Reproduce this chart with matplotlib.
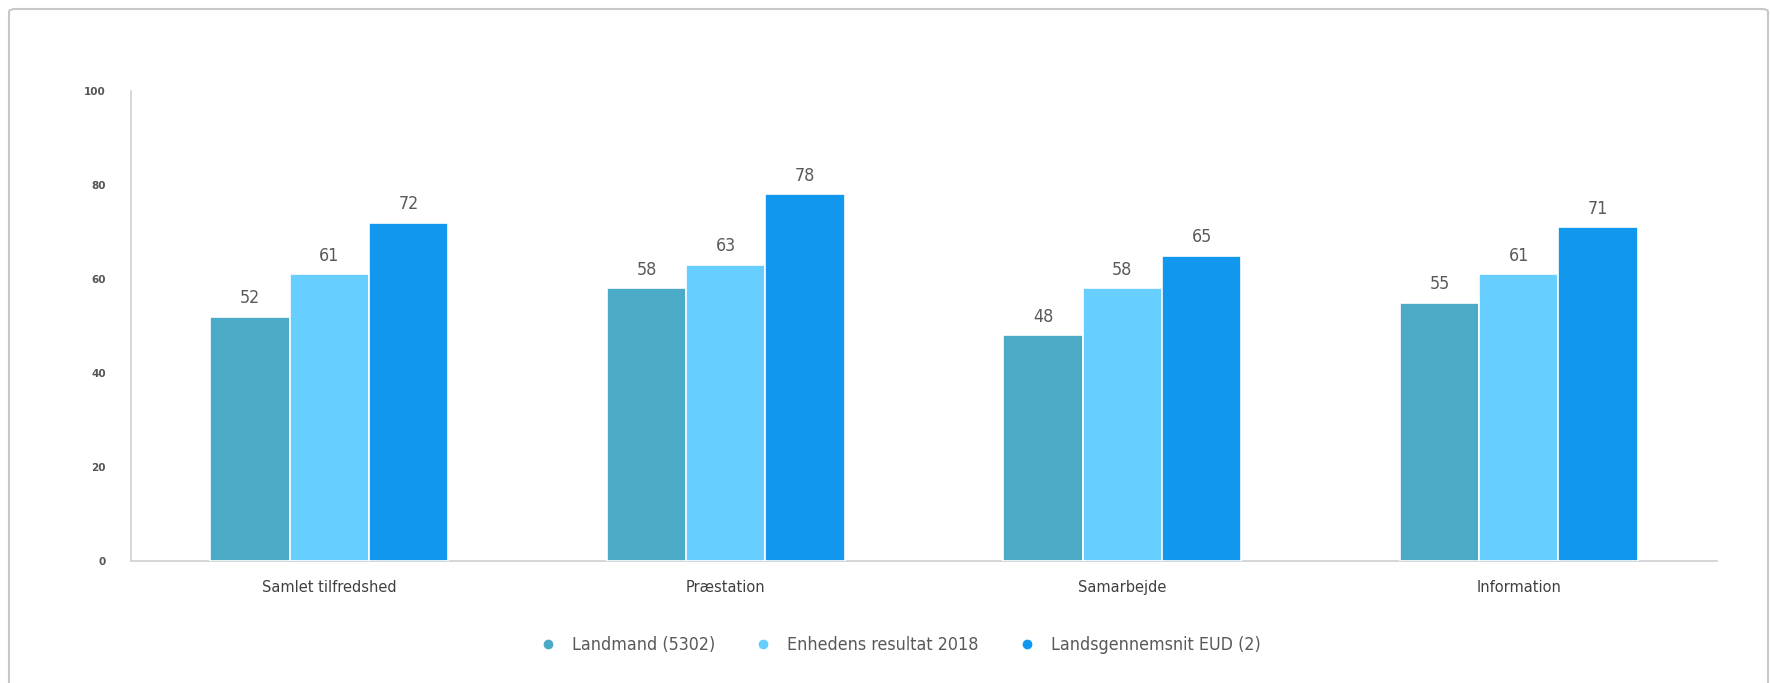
import numpy as np
import matplotlib
matplotlib.use("Agg")
import matplotlib.pyplot as plt
from matplotlib.lines import Line2D
from matplotlib.patches import FancyBboxPatch
from matplotlib.font_manager import FontProperties

categories = ["Samlet tilfredshed", "Præstation", "Samarbejde", "Information"]
series_names = ["Landmand (5302)", "Enhedens resultat 2018", "Landsgennemsnit EUD (2)"]
landmand = [52, 58, 48, 55]
enheden = [61, 63, 58, 61]
landsgns = [72, 78, 65, 71]
yticks = [0, 20, 40, 60, 80, 100]

COLORS = ["#4BABC6", "#66CFFF", "#1198EE"]
TEXT_GREY = "#595959"


def narrow_font(size):
    # condensed DejaVu is the closest thing to the original narrow font
    return FontProperties(family="DejaVu Sans", stretch="condensed", size=size)


fig = plt.figure(figsize=(17.70, 6.83), dpi=100)

# grey rounded frame around the whole chart (bottom runs off the image)
frame = FancyBboxPatch((9 / 1770, -0.05), 1759 / 1770, 1.05 - 9 / 683,
                       boxstyle="round,pad=0,rounding_size=0.004",
                       transform=fig.transFigure, fill=False,
                       edgecolor="#c8c8c8", linewidth=1.5)
fig.patches.append(frame)

ax = fig.add_axes((131 / 1770, 1 - 561 / 683, (1717 - 131) / 1770, (561 - 91) / 683))

x = np.arange(len(categories))
width = 0.2
for i, (vals, col) in enumerate(zip([landmand, enheden, landsgns], COLORS)):
    bars = ax.bar(x + (i - 1) * width, vals, width, color=col,
                  edgecolor="white", linewidth=1.2, label=series_names[i], zorder=3)
    for b, v in zip(bars, vals):
        ax.annotate(str(v), (b.get_x() + b.get_width() / 2, v),
                    xytext=(0, 7), textcoords="offset points",
                    ha="center", va="bottom", fontproperties=narrow_font(12.8),
                    color=TEXT_GREY)

ax.set_xlim(-0.5, len(categories) - 0.5)
ax.set_ylim(0, 100)
ax.set_yticks(yticks)
ax.set_yticklabels([str(t) for t in yticks], fontsize=7.5, color="#555555",
                   fontweight="bold")
ax.set_xticks(x)
ax.set_xticklabels(categories, fontsize=10.5, color="#404040")
ax.tick_params(axis="y", length=0, pad=18)
ax.tick_params(axis="x", length=0, pad=14)

for side in ["top", "right"]:
    ax.spines[side].set_visible(False)
for side in ["left", "bottom"]:
    ax.spines[side].set_color("#d0d0d0")
    ax.spines[side].set_linewidth(1.2)

handles = [Line2D([0], [0], marker="o", linestyle="none", markersize=6,
                  markerfacecolor=c, markeredgecolor=c) for c in COLORS]
leg = fig.legend(handles, series_names, loc="center left",
                 bbox_to_anchor=(539 / 1770, 1 - 645 / 683), ncol=3,
                 frameon=False, handlelength=1.0, handletextpad=0.85,
                 columnspacing=2.2, borderpad=0, borderaxespad=0,
                 prop=narrow_font(12.8))
for t in leg.get_texts():
    t.set_color(TEXT_GREY)

fig.savefig("out.png", dpi=100)
